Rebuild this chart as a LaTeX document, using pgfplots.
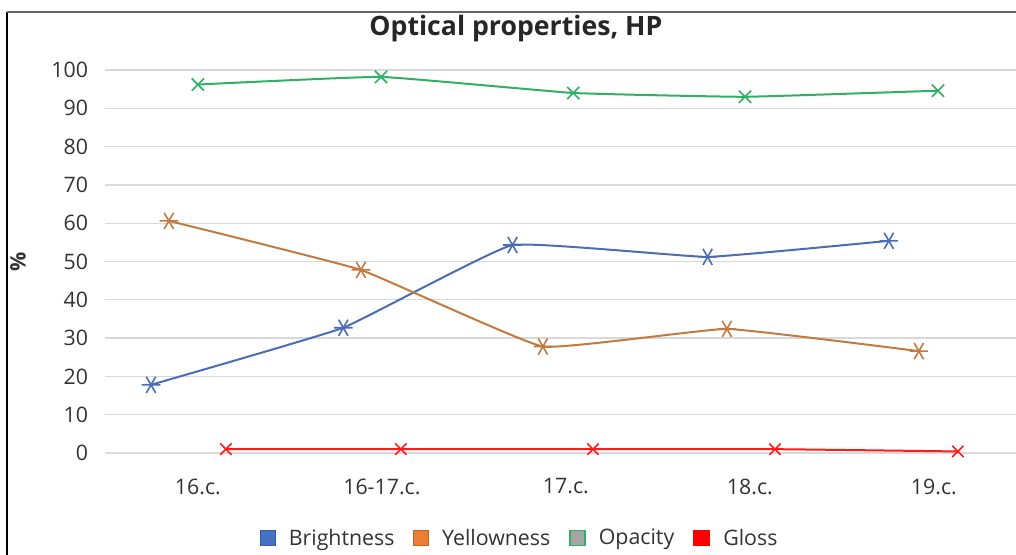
\documentclass[border=0pt]{standalone}
\usepackage{pgfplots}
\pgfplotsset{compat=1.18}
\usepackage{fontspec}
\setmainfont{Open Sans}
\definecolor{cBri}{HTML}{4A6DB5}
\definecolor{cYel}{HTML}{C27A40}
\definecolor{cOpa}{HTML}{2FB062}
\definecolor{cGlo}{HTML}{FF1A1A}
\definecolor{lBri}{HTML}{4472C4}
\definecolor{lYel}{HTML}{ED7D31}
\definecolor{lOpa}{HTML}{A5A5A5}
\definecolor{gridc}{HTML}{D9D9D9}
\definecolor{txt}{HTML}{333333}
\begin{document}
\begin{tikzpicture}
\begin{axis}[
  scale only axis,
  width=683.25pt, height=287.25pt,
  xmin=-0.505, xmax=4.446,
  ymin=0, ymax=100,
  xtick={0,1,2,3,4},
  xticklabels={16.c.,16-17.c.,17.c.,18.c.,19.c.},
  ytick={0,10,...,100},
  ymajorgrids, grid style={gridc, line width=1pt},
  axis line style={draw=none},
  major tick length=0pt,
  /pgf/number format/assume math mode=true,
  ticklabel style={font=\fontsize{16}{19}\selectfont, text=txt, inner sep=0pt},
  yticklabel style={anchor=east, xshift=-12.5pt},
  xticklabel style={anchor=north, yshift=-19pt},
  ylabel={\textbf{\%}},
  ylabel style={at={(axis description cs:-0.0955,0.499)}, anchor=center, font=\fontsize{16}{19}\selectfont, text=txt},
  title={\textbf{Optical properties, HP}},
  title style={at={(axis description cs:0.451,1.087)}, anchor=center, font=\fontsize{20}{24}\selectfont, text=black!85},
  legend columns=4,
  legend style={draw=none, at={(axis description cs:0.4555,-0.222)}, anchor=center,
    font=\fontsize{16}{19}\selectfont, text=txt,
    /tikz/every odd column/.append style={column sep=8pt},
    /tikz/every even column/.append style={column sep=12pt}},
  legend cell align=left,
  every axis plot/.append style={line width=1.5pt, smooth, tension=0.18},
]
\addplot[cBri, mark=asterisk, mark size=7pt, mark options={rotate=90, line width=1.2pt},
  legend image code/.code={\fill[lBri, draw=lBri!80!black, line width=0.5pt] (0pt,-5.6pt) rectangle (11.25pt,5.6pt);}]
  coordinates {(-0.255,17.8) (0.79,32.7) (1.71,54.3) (2.77,51.2) (3.755,55.4)};
\addlegendentry{Brightness}
\addplot[cYel, mark=asterisk, mark size=7pt, mark options={rotate=90, line width=1.2pt},
  legend image code/.code={\fill[lYel, draw=lYel!80!black, line width=0.5pt] (0pt,-5.6pt) rectangle (11.25pt,5.6pt);}]
  coordinates {(-0.158,60.6) (0.886,47.8) (1.875,27.8) (2.875,32.4) (3.918,26.6)};
\addlegendentry{Yellowness}
\addplot[cOpa, mark=x, mark size=6.5pt, mark options={line width=1.2pt},
  legend image code/.code={\filldraw[fill=lOpa, draw=cOpa, line width=1.2pt] (0pt,-5.6pt) rectangle (11.25pt,5.6pt);}]
  coordinates {(0,96.2) (0.995,98.2) (2.04,94.0) (2.973,93.0) (4.022,94.6)};
\addlegendentry{Opacity}
\addplot[cGlo, mark=x, mark size=6pt, mark options={line width=1.2pt},
  legend image code/.code={\fill[red] (0pt,-5.6pt) rectangle (11.25pt,5.6pt);}]
  coordinates {(0.152,1.0) (1.103,1.0) (2.147,1.0) (3.136,1.0) (4.13,0.4)};
\addlegendentry{Gloss}
\end{axis}
\draw[black, line width=1.5pt] (-73.5pt,-90pt) -- (-73.5pt,330.75pt);
\draw[black!60, line width=1pt] (-73.5pt,330.75pt) -- (700pt,330.75pt);
\pgfresetboundingbox
\useasboundingbox (-78.75pt,-76.5pt) rectangle (683.25pt,339.75pt);
\end{tikzpicture}
\end{document}
